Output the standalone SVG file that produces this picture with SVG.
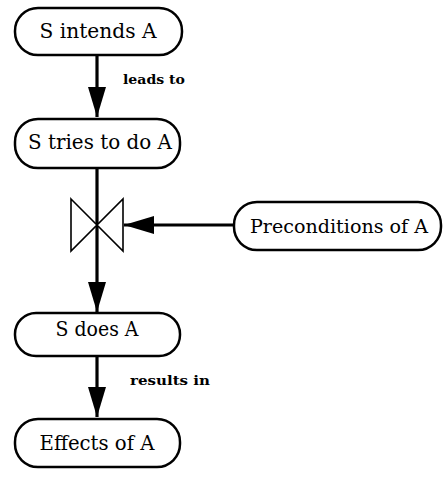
<svg xmlns="http://www.w3.org/2000/svg" width="444" height="479" viewBox="0 0 444 479">
<style>
.node{fill:#fff;stroke:#000;stroke-width:2.5}
.t{font-family:"DejaVu Serif","Liberation Serif",serif;font-size:21px;fill:#000;text-anchor:middle}
.lbl{font-family:"DejaVu Serif","Liberation Serif",serif;font-size:13px;font-weight:bold;fill:#000}
.edge{stroke:#000;stroke-width:3.2;fill:none}
.bow{stroke:#000;stroke-width:1.6;fill:#fff}
</style>
<defs>
<marker id="ah" markerUnits="userSpaceOnUse" markerWidth="32" markerHeight="20" refX="30" refY="9" orient="auto">
<path d="M0,0 L30,9 L0,18 Z" fill="#000"/>
</marker>
</defs>
<g id="connectors">
<line class="edge" x1="97" y1="55" x2="97" y2="117" marker-end="url(#ah)"/>
<line class="edge" x1="97" y1="168" x2="97" y2="312" marker-end="url(#ah)"/>
<line class="edge" x1="234" y1="225" x2="124" y2="225" marker-end="url(#ah)"/>
<line class="edge" x1="97" y1="355" x2="97" y2="417" marker-end="url(#ah)"/>
<text class="lbl" x="123" y="84" textLength="62" lengthAdjust="spacingAndGlyphs">leads to</text>
<text class="lbl" x="130" y="385" textLength="80" lengthAdjust="spacingAndGlyphs">results in</text>
</g>
<g id="bowtie">
<path class="bow" d="M71,199 L123,251 L123,199 L71,251 Z"/>
</g>
<g id="n1">
<rect class="node" x="15" y="8" width="167" height="47" rx="23"/>
<text class="t" x="98" y="38" textLength="117" lengthAdjust="spacingAndGlyphs">S intends A</text>
</g>
<g id="n2">
<rect class="node" x="15" y="119" width="165" height="49" rx="23"/>
<text class="t" x="100" y="149" textLength="144" lengthAdjust="spacingAndGlyphs">S tries to do A</text>
</g>
<g id="n3">
<rect class="node" x="234" y="202" width="207" height="48" rx="23"/>
<text class="t" x="339" y="233" style="font-size:19px" textLength="178" lengthAdjust="spacingAndGlyphs">Preconditions of A</text>
</g>
<g id="n4">
<rect class="node" x="15" y="313" width="165" height="43" rx="21"/>
<text class="t" x="97" y="336" textLength="83" lengthAdjust="spacingAndGlyphs">S does A</text>
</g>
<g id="n5">
<rect class="node" x="15" y="419" width="165" height="48" rx="23"/>
<text class="t" x="97" y="450" textLength="115" lengthAdjust="spacingAndGlyphs">Effects of A</text>
</g>
</svg>
